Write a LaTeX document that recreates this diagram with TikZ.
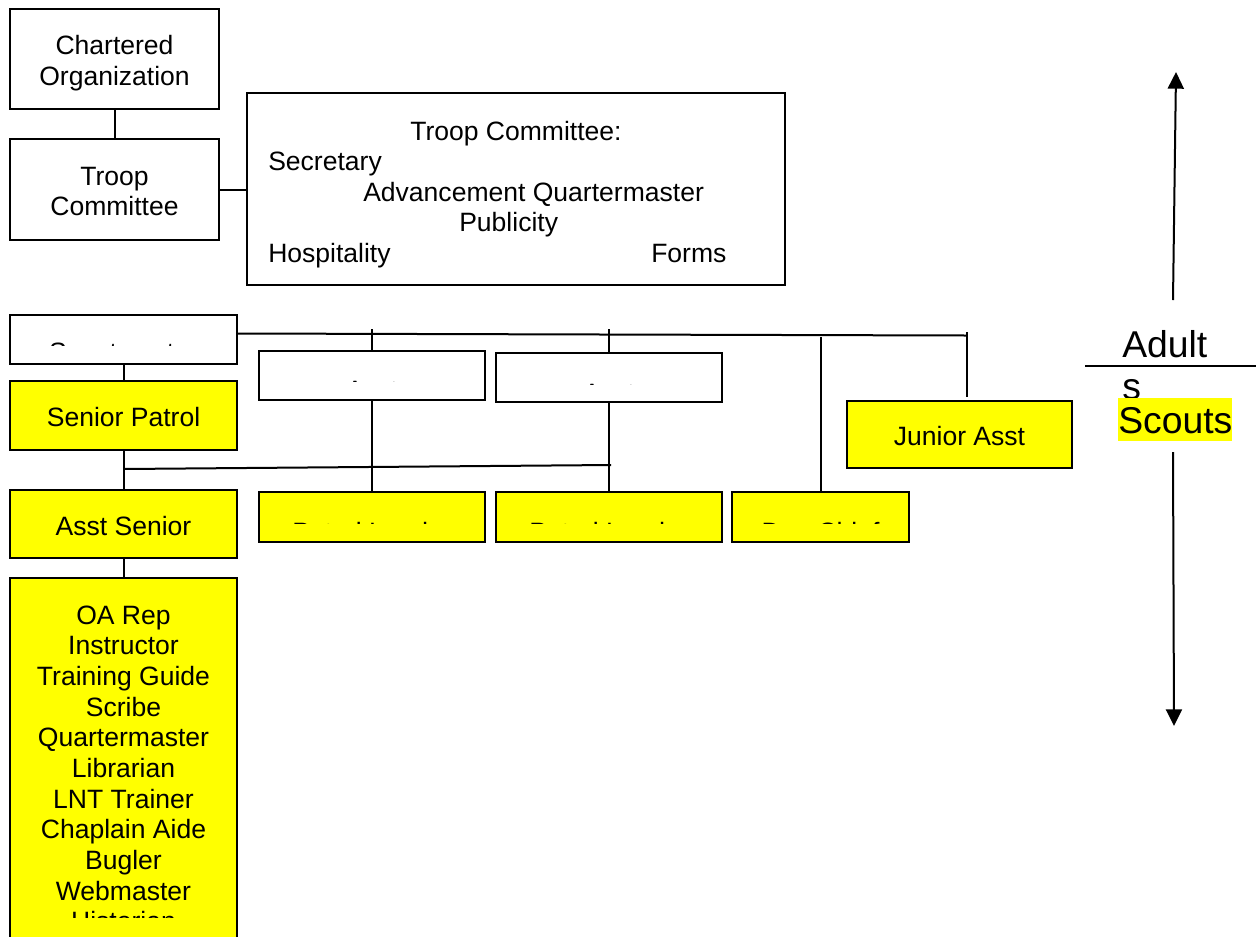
\documentclass[tikz,border=0pt]{standalone}
\usepackage{fontspec}
\setmainfont{Liberation Sans}
\usetikzlibrary{arrows.meta}
\definecolor{troopyellow}{HTML}{FFFF00}
% box whose text only shows its top slice
\newcommand{\cutlabel}[5]{%
  \begin{scope}
    \clip (#2-130,#3-40) rectangle (#2+130,#4);
    \node[anchor=base, inner sep=0pt] (#1) at (#2,#3) {#5};
  \end{scope}}

\begin{document}
\begin{tikzpicture}[
  x=0.75pt, y=-0.75pt,
  font=\fontsize{19.9}{23}\selectfont,
  box/.style={draw, line width=1.5pt, fill=white, align=center, inner sep=0pt},
  ybox/.style={box, fill=troopyellow},
  wh/.style 2 args={minimum width=#1*0.75pt, minimum height=#2*0.75pt},
  low/.style={text height=17pt, text depth=-1pt},
  link/.style={line width=1.5pt},
  arr/.style={-{Triangle[length=12.5pt, width=12pt]}, line width=1.5pt},
  txt/.style={inner sep=0pt, anchor=base west},
  big/.style={font=\fontsize{28}{31.5}\selectfont},
]
\useasboundingbox (0,0) rectangle (1256,936);
\clip (0,0) rectangle (1256,936);

% adults
\node[box, wh={209}{100}, text height=43.7pt] (charter) at (114.5,59) {Chartered\\Organization};
\node[box, wh={209}{101}, text height=39.5pt] (tcomm) at (114.5,189.5) {Troop\\Committee};
\node[box, wh={538}{192}] (tclist)  at (516,189) {};
\node[txt] (tchead)  at (410,140)   {Troop Committee:};
\node[txt] (tcsec)   at (268,170.5) {Secretary};
\node[txt] (tcadv)   at (363,201)   {Advancement Quartermaster};
\node[txt] (tcpub)   at (459,231.5) {Publicity};
\node[txt] (tchosp)  at (268,262)   {Hospitality};
\node[txt] (tcforms) at (651,262)   {Forms};
\draw[link] (charter) -- (tcomm);
\draw[link] (tcomm.east) -- (tcomm.east -| tclist.west);

\node[box, wh={227}{49}] (smaster) at (123.5,339.5) {};
\cutlabel{smtext}{123.5}{361}{345}{Scoutmaster}
\node[box, wh={226}{49}] (asst1) at (372,375.5) {};
\cutlabel{a1text}{372}{399}{381}{Asst}
\node[box, wh={226}{49}] (asst2) at (609,377.5) {};
\cutlabel{a2text}{609}{402}{384}{Asst}

% scouts
\node[ybox, wh={225}{67}, low] (jrasst) at (959.5,434.5) {Junior Asst};
\node[ybox, wh={227}{69}, low] (splead) at (123.5,415.5) {Senior Patrol};
\node[ybox, wh={227}{68}, low] (aspl)   at (123.5,524)   {Asst Senior};
\node[ybox, wh={226}{50}] (pl1) at (372,517) {};
\cutlabel{pl1text}{372}{541}{523}{Patrol Leader}
\node[ybox, wh={226}{50}] (pl2) at (609,517) {};
\cutlabel{pl2text}{609}{541}{523}{Patrol Leader}
\node[ybox, wh={177}{50}] (den) at (820.5,517) {};
\cutlabel{dentext}{820.5}{541}{523}{Den Chief}
\node[ybox, wh={227}{400}] (duties) at (123.5,778) {};
\begin{scope}
  \clip (10,578) rectangle (237,917);
  \node[anchor=north, inner sep=0pt, align=center] (dutytext) at (123.5,605.5)
    {OA Rep\\Instructor\\Training Guide\\Scribe\\Quartermaster\\Librarian\\
     LNT Trainer\\Chaplain Aide\\Bugler\\Webmaster\\Historian};
\end{scope}

% connectors
\coordinate (buse) at (967,335.5);
\draw[link] ([yshift=4.5pt]smaster.east) -- (buse);
\coordinate (t1) at (372,329);
\coordinate (t2) at (609,329);
\coordinate (t3) at (820.5,337);
\coordinate (t4) at (967,332);
\coordinate (t4b) at (967,397);
\draw[link] (t1) -- (asst1);
\draw[link] (t2) -- (asst2);
\draw[link] (t3) -- (den);
\draw[link] (t4) -- (t4b);
\draw[link] (smaster) -- (splead);
\draw[link] (splead) -- (aspl);
\coordinate (spj) at (123.5,469);
\coordinate (spe) at (611,465);
\draw[link] (spj) -- (spe);
\draw[link] (asst1) -- (pl1);
\draw[link] (asst2) -- (pl2);
\draw[link] (aspl) -- (duties);

% side scale
\coordinate (uplow) at (1173,300);
\coordinate (uptop) at (1176,72);
\coordinate (dnhigh) at (1173,452);
\coordinate (dnlow) at (1174,726);
\draw[arr] (uplow) -- (uptop);
\draw[arr] (dnhigh) -- (dnlow);
\coordinate (divw) at (1085,366);
\coordinate (dive) at (1256,366);
\draw[link] (divw) -- (dive);
\node[big, anchor=north west, inner sep=0pt, align=left] (adults) at (1122,330) {Adult\\s};
\node[big, anchor=base west, fill=troopyellow, inner xsep=0pt, inner ysep=0pt,
      text height=26.25pt, text depth=6pt] (scouts) at (1118,433) {Scouts};
\end{tikzpicture}
\end{document}
